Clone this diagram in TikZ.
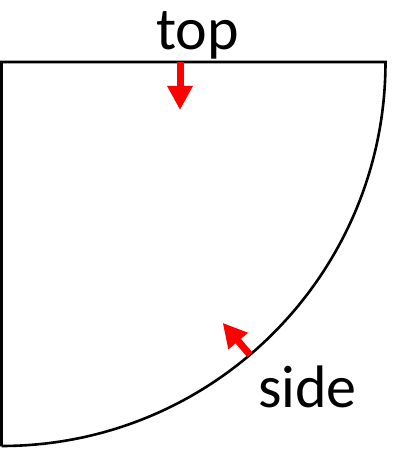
\documentclass[tikz,border=0pt]{standalone}
\usepackage{fontspec}
\setmainfont{Carlito}
\usetikzlibrary{arrows.meta,calc}
\begin{document}
\begin{tikzpicture}[x=1pt,y=1pt,
  outline/.style={draw=black,line width=2.6pt,line join=miter},
  redarrow/.style={draw=red,line width=7pt,-{Triangle[width=24pt,length=24pt]}},
  lbl/.style={inner sep=0pt,anchor=base,font=\fontsize{60}{66}\selectfont}]
\useasboundingbox (0,0) rectangle (412,463);
\coordinate (c) at (1.5,401);
\draw[outline] (c) ++(0,-384.5) -- (c) -- ++(384,0) arc[start angle=0,end angle=-90,radius=384];
\coordinate (t1) at (180,401);
\coordinate (t2) at (180,353);
\draw[redarrow] (t1) -- (t2);
\coordinate (s1) at ($(c)+(-49.7:384)$);
\coordinate (s2) at ($(c)+(-49.7:342)$);
\draw[redarrow] (s1) -- (s2);
\node[lbl] (top) at (197.5,413) {top};
\node[lbl] (side) at (307.5,55) {side};
\end{tikzpicture}
\end{document}
